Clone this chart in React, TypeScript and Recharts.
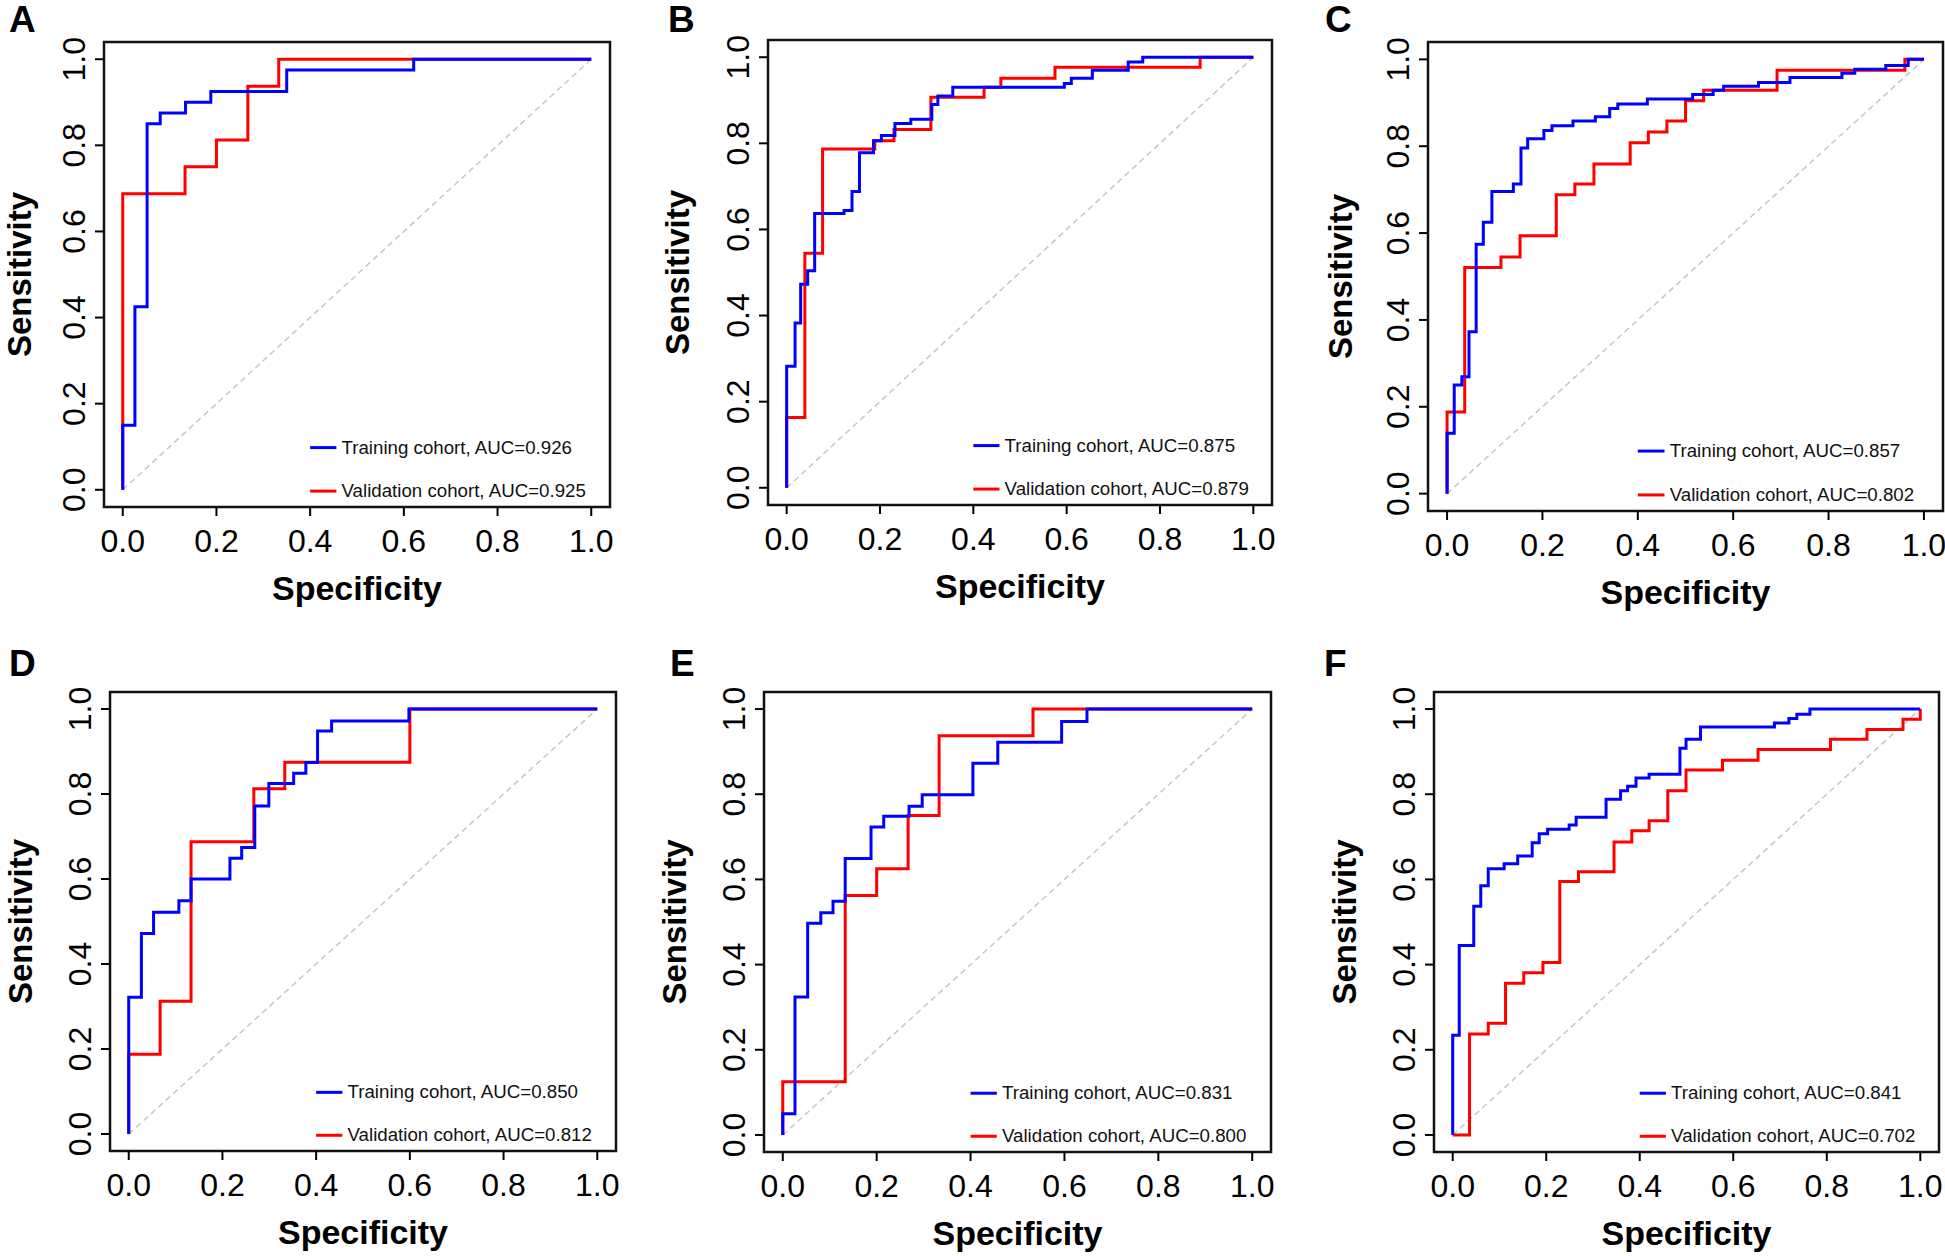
import React from 'react';
import {
  LineChart,
  Line,
  XAxis,
  YAxis,
  ReferenceArea,
  ReferenceLine,
  ReferenceDot,
} from 'recharts';

type Pt = [number, number];

// ROC curves as stepBefore vertices: each point is where a horizontal run at level y ends
const aTrain: Pt[] = [[0, 0], [0.026, 0.15], [0.052, 0.425], [0.08, 0.85], [0.134, 0.875], [0.188, 0.9], [0.35, 0.925], [0.621, 0.975], [1, 1]];
const aValid: Pt[] = [[0, 0], [0.133, 0.6875], [0.2, 0.75], [0.267, 0.8125], [0.333, 0.9375], [1, 1]];

const bTrain: Pt[] = [[0, 0], [0.018, 0.282], [0.03, 0.383], [0.045, 0.473], [0.06, 0.504], [0.123, 0.637], [0.14, 0.644], [0.156, 0.688], [0.186, 0.778], [0.203, 0.806], [0.232, 0.818], [0.266, 0.846], [0.311, 0.856], [0.324, 0.89], [0.356, 0.91], [0.595, 0.93], [0.61, 0.939], [0.655, 0.951], [0.732, 0.97], [0.763, 0.989], [1, 1]];
const bValid: Pt[] = [[0, 0], [0.039, 0.163], [0.077, 0.545], [0.189, 0.787], [0.23, 0.806], [0.309, 0.832], [0.423, 0.907], [0.459, 0.93], [0.575, 0.951], [0.886, 0.977], [1, 1]];

const cTrain: Pt[] = [[0, 0], [0.015, 0.139], [0.031, 0.25], [0.046, 0.269], [0.061, 0.373], [0.076, 0.574], [0.094, 0.625], [0.139, 0.696], [0.155, 0.713], [0.169, 0.796], [0.203, 0.817], [0.22, 0.836], [0.264, 0.847], [0.311, 0.858], [0.341, 0.868], [0.358, 0.887], [0.42, 0.897], [0.515, 0.909], [0.558, 0.919], [0.58, 0.929], [0.653, 0.938], [0.719, 0.947], [0.828, 0.958], [0.855, 0.968], [0.92, 0.977], [0.967, 0.986], [1, 1]];
const cValid: Pt[] = [[0, 0], [0.037, 0.188], [0.113, 0.521], [0.153, 0.545], [0.229, 0.594], [0.268, 0.688], [0.308, 0.713], [0.384, 0.759], [0.422, 0.808], [0.461, 0.833], [0.5, 0.858], [0.538, 0.905], [0.692, 0.929], [0.96, 0.975], [1, 1]];

const dTrain: Pt[] = [[0, 0], [0.027, 0.322], [0.053, 0.472], [0.107, 0.522], [0.133, 0.549], [0.216, 0.6], [0.241, 0.649], [0.269, 0.674], [0.299, 0.772], [0.352, 0.825], [0.378, 0.849], [0.403, 0.874], [0.433, 0.948], [0.598, 0.972], [1, 1]];
const dValid: Pt[] = [[0, 0], [0.067, 0.1875], [0.133, 0.3125], [0.267, 0.6875], [0.333, 0.8125], [0.6, 0.875], [1, 1]];

const eTrain: Pt[] = [[0, 0], [0.026, 0.05], [0.053, 0.324], [0.081, 0.497], [0.107, 0.522], [0.133, 0.549], [0.188, 0.649], [0.215, 0.723], [0.269, 0.748], [0.297, 0.772], [0.405, 0.799], [0.458, 0.873], [0.594, 0.922], [0.648, 0.971], [1, 1]];
const eValid: Pt[] = [[0, 0], [0.133, 0.125], [0.2, 0.5625], [0.267, 0.625], [0.333, 0.75], [0.533, 0.9375], [1, 1]];

const fTrain: Pt[] = [[0, 0], [0.014, 0.234], [0.045, 0.445], [0.06, 0.537], [0.076, 0.585], [0.11, 0.625], [0.139, 0.637], [0.17, 0.655], [0.185, 0.686], [0.203, 0.707], [0.249, 0.718], [0.264, 0.728], [0.328, 0.746], [0.359, 0.788], [0.374, 0.808], [0.392, 0.819], [0.42, 0.838], [0.486, 0.847], [0.499, 0.908], [0.53, 0.929], [0.688, 0.958], [0.719, 0.967], [0.736, 0.978], [0.764, 0.988], [1, 1]];
const fValid: Pt[] = [[0, 0], [0.036, 0], [0.076, 0.237], [0.113, 0.262], [0.152, 0.356], [0.193, 0.381], [0.229, 0.405], [0.269, 0.595], [0.345, 0.618], [0.383, 0.688], [0.42, 0.714], [0.46, 0.738], [0.499, 0.808], [0.577, 0.857], [0.653, 0.88], [0.808, 0.905], [0.886, 0.929], [0.963, 0.952], [1, 0.976], [1, 1]];

const diagonal: Pt[] = [[0, 0], [1, 1]];

const panelLetters = ['A', 'B', 'C', 'D', 'E', 'F'];
const trainCurves = [aTrain, bTrain, cTrain, dTrain, eTrain, fTrain];
const validCurves = [aValid, bValid, cValid, dValid, eValid, fValid];
const aucTrain = ['0.926', '0.875', '0.857', '0.850', '0.831', '0.841'];
const aucValid = ['0.925', '0.879', '0.802', '0.812', '0.800', '0.702'];
const axisTicks = [0, 0.2, 0.4, 0.6, 0.8, 1.0];

const FONT = '"Liberation Sans", Arial, Helvetica, sans-serif';
const DOMAIN: [number, number] = [-0.04, 1.04];
const YW = 110;
const XH = 110;
const MT = 10;
const MR = 10;

// plot-box placement of each panel on the page
const boxes = [
  { left: 104, top: 42, width: 506, height: 465 },
  { left: 768, top: 40, width: 504, height: 465 },
  { left: 1428, top: 42, width: 515, height: 469 },
  { left: 110, top: 692, width: 506, height: 459 },
  { left: 764, top: 692, width: 507, height: 460 },
  { left: 1434, top: 692, width: 505, height: 460 },
];
// distance from the box edge to the baseline of the rotated "Sensitivity"
const yTitleGap = [73, 79, 76, 78, 78, 78];
const letterPos = [
  { x: 9, y: 32 },
  { x: 668, y: 32 },
  { x: 1325, y: 32 },
  { x: 9, y: 676 },
  { x: 670, y: 676 },
  { x: 1324, y: 676 },
];

const toPts = (arr: Pt[]) => arr.map(([x, y]) => ({ x, y }));

const XTick = (props: any) => {
  const { x, y, payload } = props;
  return (
    <text x={x} y={y + 36} textAnchor="middle" fontSize={32} fill="#000" fontFamily={FONT}>
      {Number(payload.value).toFixed(1)}
    </text>
  );
};

const YTick = (props: any) => {
  const { x, y, payload } = props;
  return (
    <text
      x={x}
      y={y}
      transform={`rotate(-90 ${x} ${y})`}
      textAnchor="middle"
      fontSize={32}
      fill="#000"
      fontFamily={FONT}
    >
      {Number(payload.value).toFixed(1)}
    </text>
  );
};

const xTitle = (props: any) => {
  const vb = props.viewBox;
  return (
    <text x={vb.x + vb.width / 2} y={vb.y + 93} textAnchor="middle" fontSize={34} fontWeight="bold" fill="#000" fontFamily={FONT}>
      Specificity
    </text>
  );
};

const makeYTitle = (gap: number) => (props: any) => {
  const vb = props.viewBox;
  const cx = vb.x + vb.width - gap;
  const cy = vb.y + vb.height / 2;
  return (
    <text x={cx} y={cy} transform={`rotate(-90 ${cx} ${cy})`} textAnchor="middle" fontSize={33} fontWeight="bold" fill="#000" fontFamily={FONT}>
      Sensitivity
    </text>
  );
};

const legendText = (label: string) => (p: any) => (
  <text x={p.cx} y={p.cy + 6} fontSize={18.7} fill="#111" fontFamily={FONT}>
    {label}
  </text>
);

function RocPanel({ idx }: { idx: number }) {
  const box = boxes[idx];
  const w = YW + box.width + MR;
  const h = MT + box.height + XH;
  return (
    <div style={{ position: 'absolute', left: box.left - YW, top: box.top - MT, width: w, height: h }}>
      <LineChart width={w} height={h} margin={{ top: MT, right: MR, bottom: 0, left: 0 }}>
        <XAxis
          type="number"
          dataKey="x"
          domain={DOMAIN}
          ticks={axisTicks}
          interval={0}
          allowDataOverflow
          axisLine={false}
          tickLine={{ stroke: '#000', strokeWidth: 2 }}
          tickSize={9}
          tickMargin={0}
          height={XH}
          tick={<XTick />}
          label={xTitle}
        />
        <YAxis
          type="number"
          dataKey="y"
          domain={DOMAIN}
          ticks={axisTicks}
          interval={0}
          allowDataOverflow
          axisLine={false}
          tickLine={{ stroke: '#000', strokeWidth: 2 }}
          tickSize={9}
          tickMargin={10}
          width={YW}
          tick={<YTick />}
          label={makeYTitle(yTitleGap[idx])}
        />
        <Line
          data={toPts(diagonal)}
          dataKey="y"
          type="linear"
          stroke="#c6c6cc"
          strokeWidth={1.5}
          strokeDasharray="6 4"
          dot={false}
          activeDot={false}
          isAnimationActive={false}
        />
        <Line
          data={toPts(validCurves[idx])}
          dataKey="y"
          type="stepBefore"
          stroke="#ff0000"
          strokeWidth={3}
          dot={false}
          activeDot={false}
          isAnimationActive={false}
        />
        <Line
          data={toPts(trainCurves[idx])}
          dataKey="y"
          type="stepBefore"
          stroke="#0000ff"
          strokeWidth={3}
          dot={false}
          activeDot={false}
          isAnimationActive={false}
        />
        <ReferenceArea
          x1={DOMAIN[0]}
          x2={DOMAIN[1]}
          y1={DOMAIN[0]}
          y2={DOMAIN[1]}
          fill="none"
          stroke="#111"
          strokeWidth={2.5}
          ifOverflow="visible"
        />
        <ReferenceLine segment={[{ x: 0.4, y: 0.098 }, { x: 0.456, y: 0.098 }]} stroke="#0000ff" strokeWidth={3} ifOverflow="visible" />
        <ReferenceLine segment={[{ x: 0.4, y: -0.003 }, { x: 0.456, y: -0.003 }]} stroke="#ff0000" strokeWidth={3} ifOverflow="visible" />
        <ReferenceDot x={0.467} y={0.098} r={0} ifOverflow="visible" shape={legendText(`Training cohort, AUC=${aucTrain[idx]}`)} />
        <ReferenceDot x={0.467} y={-0.003} r={0} ifOverflow="visible" shape={legendText(`Validation cohort, AUC=${aucValid[idx]}`)} />
      </LineChart>
    </div>
  );
}

export default function App() {
  return (
    <div style={{ position: 'absolute', left: 0, top: 0, width: 1945, height: 1256, background: '#fff', overflow: 'hidden' }}>
      <svg width={1945} height={1256} style={{ position: 'absolute', left: 0, top: 0 }}>
        {panelLetters.map((l, i) => (
          <text key={l} x={letterPos[i].x} y={letterPos[i].y} fontSize={37} fontWeight="bold" fill="#000" fontFamily={FONT}>
            {l}
          </text>
        ))}
      </svg>
      {panelLetters.map((l, i) => (
        <RocPanel key={l} idx={i} />
      ))}
    </div>
  );
}
